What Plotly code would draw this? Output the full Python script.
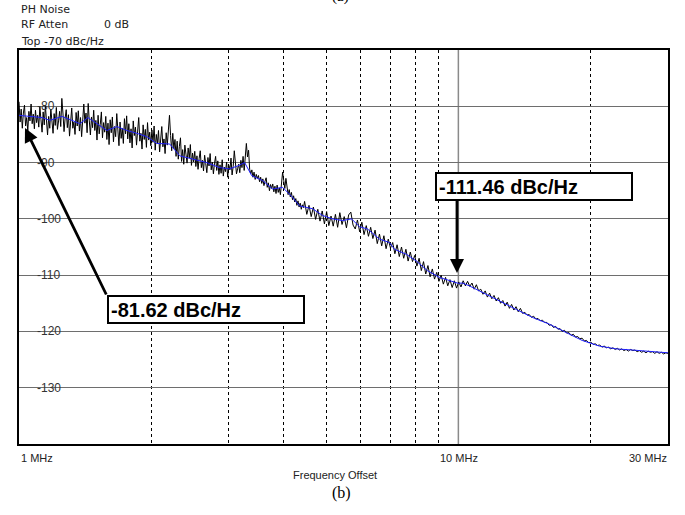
import numpy as np
import plotly.graph_objects as go

# ---------------- data ----------------
blue_freq_mhz = [1.000, 1.076, 1.128, 1.176, 1.252, 1.320, 1.376, 1.435, 1.504, 1.585,
                 1.670, 1.760, 1.854, 1.954, 2.059, 2.203, 2.322, 2.486, 2.675, 2.862,
                 3.016, 3.146, 3.263, 3.384, 3.585, 3.778, 3.981, 4.173, 4.351, 4.658,
                 4.909, 5.172, 5.451, 5.713, 5.957, 6.212, 6.614, 6.970, 7.154, 7.617,
                 8.027, 8.503, 9.054, 10.00, 10.21, 10.59, 11.34, 12.40, 13.55, 14.73,
                 16.10, 17.60, 19.13, 20.92, 22.86, 24.86, 27.18, 30.00]
blue_db = [-81.62, -81.8, -82.0, -82.5, -81.8, -82.5, -83.1, -82.0, -83.1, -84.3,
           -83.6, -84.3, -84.8, -85.4, -86.6, -86.7, -88.8, -89.4, -90.0, -90.9,
           -91.1, -90.6, -90.0, -92.3, -93.2, -94.7, -94.4, -96.0, -97.7, -98.2,
           -99.4, -100.0, -100.3, -100.0, -101.4, -101.8, -103.6, -104.2, -105.4, -106.3,
           -107.5, -109.2, -110.4, -111.46, -111.4, -111.9, -113.1, -114.6, -116.1, -117.5,
           -118.7, -120.2, -121.6, -122.6, -123.1, -123.3, -123.6, -123.8]

# raw (unaveraged) trace, part 1: dense sweep points from 1 MHz to ~4.47 MHz
black_db_low = [
    -79.2, -82.8, -80.5, -83.9, -81.2, -79.8, -83.5, -82.0, -84.4, -80.9,
    -82.6, -79.6, -83.1, -81.4, -84.0, -80.7, -82.9, -81.6, -83.7, -80.1,
    -82.4, -84.6, -81.0, -83.3, -79.9, -82.7, -85.1, -81.8, -83.9, -80.5,
    -82.2, -84.8, -81.3, -83.4, -80.2, -84.1, -82.6, -80.9, -83.6, -78.6,
    -81.2, -84.5, -82.1, -80.6, -83.8, -81.5, -85.3, -82.4, -80.3, -83.9,
    -82.8, -85.0, -81.1, -83.5, -80.8, -84.4, -82.0, -85.4, -81.7, -79.6,
    -83.0, -81.2, -84.7, -79.5, -82.6, -85.1, -81.9, -83.8, -80.7, -84.3,
    -82.5, -86.0, -81.6, -84.9, -83.2, -81.0, -85.6, -82.9, -84.6, -81.8,
    -85.9, -83.0, -86.8, -82.4, -84.7, -81.9, -86.3, -83.6, -85.4, -81.3,
    -84.2, -87.0, -82.8, -85.7, -83.9, -86.6, -82.2, -84.9, -81.7, -85.8,
    -83.1, -86.5, -84.0, -87.4, -82.6, -85.2, -83.7, -86.9, -84.4, -82.0,
    -86.2, -84.8, -87.6, -83.3, -85.9, -84.1, -87.3, -82.9, -86.0, -84.6,
    -87.0, -84.2, -86.4, -83.5, -87.8, -85.0, -86.7, -84.3, -88.1, -85.5,
    -83.6, -87.2, -85.8, -88.4, -84.7, -86.9, -83.9, -81.6, -85.2, -87.9,
    -84.8, -87.6, -85.9, -88.9, -86.2, -89.4, -87.1, -85.6, -89.8, -87.7,
    -90.3, -86.9, -88.5, -90.1, -87.4, -89.2, -86.8, -90.5, -88.3, -89.9,
    -88.0, -90.7, -88.8, -91.2, -89.3, -87.9, -90.9, -89.6, -91.5, -88.7,
    -90.2, -91.8, -89.1, -90.6, -88.4, -91.3, -89.9, -92.0, -90.1, -88.9,
    -91.4, -89.7, -92.1, -90.4, -91.9, -89.5, -92.4, -90.8, -91.6, -89.9,
    -92.6, -90.5, -91.3, -89.2, -92.2, -90.7, -87.9, -89.8, -92.0, -91.1,
    -90.3, -91.8, -89.6, -90.9, -88.9, -91.4, -88.2, -86.6, -89.0, -87.8,
    -91.2, -92.0, -91.3, -92.6, -91.7, -93.0, -92.1, -92.8, -92.3, -93.4,
    -92.6, -93.7, -92.9, -94.1, -93.3, -92.7, -94.4, -93.6, -95.0, -93.9,
    -94.6, -93.8, -95.2, -94.2, -95.5, -94.0, -95.3, -94.5, -95.7, -93.6,
    -91.7, -93.2, -94.6, -92.8, -94.9, -95.7, -94.8, -96.1, -95.3, -96.6,
    -95.9, -97.0, -96.4, -97.6, -96.8, -97.9, -97.2, -98.3, -97.5, -98.0,
]
# raw trace, part 2: sweep points from ~4.47 MHz to 30 MHz
black_db_high = [
    -96.9, -99.2, -97.6, -99.6, -97.9, -100.1, -98.3, -100.4, -98.6, -100.9,
    -98.7, -101.2, -99.5, -101.3, -99.2, -101.5, -98.9, -101.0, -99.6, -101.6,
    -99.3, -98.8, -101.1, -101.8, -100.2, -102.3, -100.6, -102.8, -101.2, -103.1,
    -101.5, -103.5, -102.0, -104.4, -102.7, -104.8, -103.0, -105.3, -103.6, -105.2,
    -104.2, -106.2, -104.6, -106.7, -105.0, -107.0, -105.4, -107.5, -105.9, -107.6,
    -106.5, -108.4, -107.0, -109.2, -107.6, -109.8, -108.3, -110.3, -108.9, -110.7,
    -109.5, -111.1, -110.0, -111.6, -110.4, -111.9, -110.8, -112.2, -111.0, -112.3,
    -111.2, -112.1, -111.0, -111.9, -111.1, -112.0, -111.4, -112.5, -111.7, -112.8,
    -112.5, -113.4, -112.8, -113.9, -113.2, -114.2, -113.6, -114.6, -114.0, -115.0,
    -114.5, -115.5, -114.8, -115.9, -115.2, -116.2, -115.6, -116.5, -115.9, -116.8,
    -116.6, -117.1, -117.0, -117.5, -117.3, -117.8, -117.7, -118.1, -118.0, -118.4,
    -118.4, -118.9, -118.8, -119.3, -119.1, -119.6, -119.5, -120.0, -119.8, -120.3,
    -120.2, -120.7, -120.5, -121.0, -120.9, -121.3, -121.2, -121.7, -121.6, -122.0,
    -121.9, -122.3, -122.2, -122.5, -122.4, -122.8, -122.6, -122.9, -122.8, -123.1,
    -122.9, -123.2, -123.0, -123.3, -123.1, -123.4, -123.2, -123.5, -123.2, -123.4,
    -123.3, -123.6, -123.4, -123.7, -123.5, -123.8, -123.5, -123.7, -123.6, -123.9,
    -123.6, -123.9, -123.7, -124.0, -123.8, -123.9,
]
SPLIT_LOG = 0.65
black_freq_mhz = np.concatenate([
    np.logspace(0, SPLIT_LOG, len(black_db_low) + 1)[:-1],
    np.logspace(SPLIT_LOG, np.log10(30), len(black_db_high)),
])
black_db = black_db_low + black_db_high

y_tick_vals = [-80, -90, -100, -110, -120, -130]
y_tick_text = ["-80", "-90", "-100", "-110", "-120", "-130"]
x_dashed_grid_mhz = [2, 3, 4, 5, 6, 7, 8, 9, 20]
x_solid_grid_mhz = 10
x_label_text = ["1 MHz", "10 MHz", "30 MHz"]

marker_low_text = "-81.62 dBc/Hz"
marker_high_text = "-111.46 dBc/Hz"

# ---------------- layout geometry ----------------
W, H = 685, 515
L, R, T, B = 19, 17, 50, 71
PW, PH = W - L - R, H - T - B


def pxx(x):
    return (x - L) / PW


def pxy(y):
    return (T + PH - y) / PH


SANS = "Liberation Sans, Arial, sans-serif"
HDR = "DejaVu Sans, Verdana, sans-serif"
SERIF = "Liberation Serif, Times New Roman, serif"

fig = go.Figure()
fig.add_trace(go.Scatter(x=black_freq_mhz, y=black_db, mode="lines",
                         line=dict(color="black", width=1), hoverinfo="skip",
                         showlegend=False))
fig.add_trace(go.Scatter(x=blue_freq_mhz, y=blue_db, mode="lines",
                         line=dict(color="#1f1fff", width=1), hoverinfo="skip",
                         showlegend=False))

shapes = [dict(type="line", xref="x", yref="paper", x0=x_solid_grid_mhz, x1=x_solid_grid_mhz,
               y0=0, y1=1, line=dict(color="#8a8a8a", width=1.5), layer="below")]
# white gaps behind the in-plot y labels
for v, t in zip(y_tick_vals, y_tick_text):
    shapes.append(dict(type="rect", xref="paper", yref="y",
                       x0=pxx(33), x1=pxx(36 + 7 * len(t)), y0=v - 0.9, y1=v + 0.9,
                       fillcolor="white", line=dict(width=0), layer="between"))

ann = []


def text(s, x, y, xanchor="left", size=11, family=SANS, color="#222", **kw):
    ann.append(dict(text=s, xref="paper", yref="paper", x=pxx(x), y=pxy(y),
                    xanchor=xanchor, yanchor="middle", showarrow=False,
                    font=dict(size=size, family=family, color=color), **kw))


text("(a)", 340, -3, xanchor="center", size=15, family=SERIF, color="black")
text("PH Noise", 19, 9.5, family=HDR)
text("RF Atten", 19, 25, family=HDR)
text("0 dB", 102, 25, family=HDR)
text("Top -70 dBc/Hz", 19, 41.5, family=HDR)

for v, t in zip(y_tick_vals, y_tick_text):
    ann.append(dict(text=t, xref="paper", yref="y", x=pxx(35), y=v, xanchor="left",
                    yanchor="middle", showarrow=False,
                    font=dict(size=12, family=SANS, color="#333")))

text(x_label_text[0], 19, 458)
text(x_label_text[1], 459, 458, xanchor="center")
text(x_label_text[2], 669, 458, xanchor="right")
text("Frequency Offset", 335, 475, xanchor="center")
text("(b)", 341, 493, xanchor="center", size=16, family=SERIF, color="black")

# marker boxes
for s, x0, y0 in [(marker_low_text, 107, 295), (marker_high_text, 435, 172)]:
    ann.append(dict(text="<b>" + s + "</b>", xref="paper", yref="paper",
                    x=pxx(x0), y=pxy(y0), xanchor="left", yanchor="top",
                    showarrow=False, align="left", width=190, height=21,
                    borderpad=2, borderwidth=2, bordercolor="black", bgcolor="white",
                    font=dict(size=20, family=SANS, color="black")))

# arrows: (tip x, tip y, tail x, tail y) in picture pixels
for tx, ty, sx, sy in [(25, 128, 107, 296), (457, 273, 457, 199)]:
    ann.append(dict(text="", xref="paper", yref="paper", x=pxx(tx), y=pxy(ty),
                    showarrow=True, ax=sx - tx, ay=sy - ty,
                    arrowhead=2, arrowsize=1, arrowwidth=2.8, arrowcolor="black",
                    standoff=0))

fig.update_layout(
    width=W, height=H, autosize=False,
    margin=dict(l=L, r=R, t=T, b=B, pad=0),
    paper_bgcolor="white", plot_bgcolor="white",
    shapes=shapes, annotations=ann,
    xaxis=dict(type="log", range=[0, np.log10(30)], tickvals=x_dashed_grid_mhz,
               showticklabels=False, ticks="", showgrid=True, gridcolor="black",
               griddash="dot", gridwidth=1, zeroline=False,
               showline=True, mirror=True, linecolor="black", linewidth=1.5),
    yaxis=dict(range=[-140, -70], tickvals=y_tick_vals, showticklabels=False, ticks="",
               showgrid=True, gridcolor="#6e6e6e", gridwidth=1.3, zeroline=False,
               showline=True, mirror=True, linecolor="black", linewidth=1.5),
)

fig.write_html("out.html", config={"displayModeBar": False},
               post_script="document.body.style.margin='0px';")
